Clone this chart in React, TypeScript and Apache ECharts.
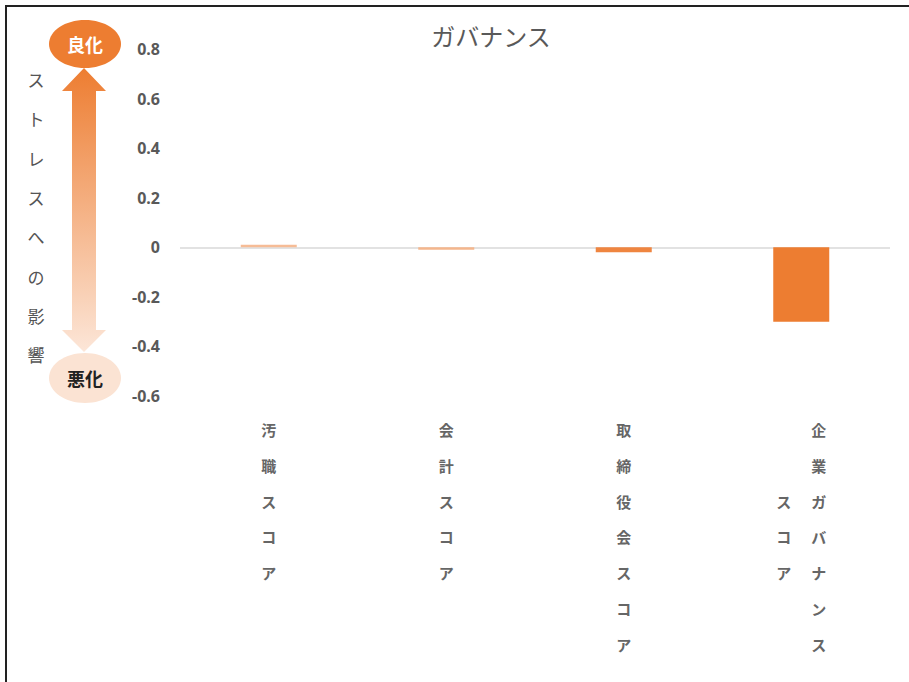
import React, { useEffect, useRef } from "react";
import * as echarts from "echarts";

// Governance sub-scores and their impact on stress
const categories = ["汚職スコア", "会計スコア", "取締役会スコア", "企業ガバナンススコア"];
const values = [0.01, -0.01, -0.02, -0.3];
const barColors = ["#F6BC96", "#F4B68C", "#EF8540", "#ED7D31"];

const chartTitle = "ガバナンス";
const sideCaption = "ストレスへの影響";
const upBadge = "良化";
const downBadge = "悪化";

const Y_MIN = -0.6;
const Y_MAX = 0.8;
const Y_STEP = 0.2;
const MAX_CHARS_PER_COLUMN = 7;

const JP_FONT = "'Noto Sans CJK JP', 'Noto Sans', sans-serif";

// Builds a vertical (tategaki-style) label: one character per line, columns
// of at most MAX_CHARS_PER_COLUMN, further columns to the left, shorter
// columns centred vertically.
function verticalLabel(name: string): string {
  const chars = Array.from(name);
  const cols: string[][] = [];
  for (let i = 0; i < chars.length; i += MAX_CHARS_PER_COLUMN) {
    cols.push(chars.slice(i, i + MAX_CHARS_PER_COLUMN));
  }
  const rows = cols[0].length;
  const padded = cols.map((c) => {
    const off = Math.floor((rows - c.length) / 2);
    return Array.from({ length: rows }, (_, r) => c[r - off] ?? "\u3000");
  });
  const ordered = padded.slice().reverse();
  const lines: string[] = [];
  for (let r = 0; r < rows; r++) {
    lines.push(ordered.map((col) => `{c|${col[r]}}`).join(""));
  }
  return lines.join("\n");
}

export default function App() {
  const ref = useRef<HTMLDivElement>(null);

  useEffect(() => {
    if (!ref.current) return;
    const chart = echarts.init(ref.current, undefined, { renderer: "svg" });

    const arrowGradient = new echarts.graphic.LinearGradient(0, 0, 0, 1, [
      { offset: 0, color: "#ED7D31" },
      { offset: 1, color: "#FCE6D8" },
    ]);

    chart.setOption({
      animation: false,
      backgroundColor: "#ffffff",
      title: {
        text: chartTitle,
        left: 486,
        top: 18,
        textAlign: "center",
        textStyle: {
          fontFamily: JP_FONT,
          fontSize: 24,
          fontWeight: "normal",
          color: "#595959",
        },
      },
      grid: { left: 180, right: 19, top: 49, bottom: 286, containLabel: false },
      xAxis: {
        type: "category",
        data: categories,
        position: "bottom",
        axisLine: { show: false, onZero: false },
        axisTick: { show: false },
        splitLine: { show: false },
        axisLabel: {
          interval: 0,
          margin: 16,
          verticalAlign: "top",
          formatter: (v: string) => verticalLabel(v),
          rich: {
            c: {
              width: 35,
              align: "center",
              lineHeight: 35.7,
              fontSize: 15,
              fontWeight: "bold",
              fontFamily: JP_FONT,
              color: "#666666",
            },
          },
        },
      },
      yAxis: {
        type: "value",
        min: Y_MIN,
        max: Y_MAX,
        interval: Y_STEP,
        axisLine: { show: false },
        axisTick: { show: false },
        splitLine: { show: false },
        axisLabel: {
          margin: 20,
          fontSize: 16,
          fontWeight: "bold",
          fontFamily: "'Noto Sans', sans-serif",
          color: "#595959",
          formatter: (v: number) => (Math.abs(v) < 1e-9 ? "0" : v.toFixed(1)),
        },
      },
      series: [
        {
          type: "bar",
          barWidth: 56,
          data: values.map((v, i) => ({ value: v, itemStyle: { color: barColors[i] } })),
          markLine: {
            silent: true,
            symbol: ["none", "none"],
            label: { show: false },
            lineStyle: { color: "#D9D9D9", type: "solid", width: 1.5 },
            data: [{ yAxis: 0 }],
            z: 1,
          },
          z: 2,
        },
      ],
      graphic: [
        // frame edges
        {
          type: "line",
          shape: { x1: 5, y1: 6, x2: 909, y2: 6 },
          style: { stroke: "#222222", lineWidth: 2 },
        },
        {
          type: "line",
          shape: { x1: 6, y1: 5, x2: 6, y2: 682 },
          style: { stroke: "#222222", lineWidth: 2 },
        },
        // double-headed gradient arrow
        {
          type: "polygon",
          shape: {
            points: [
              [84, 68],
              [106, 91],
              [96, 91],
              [96, 330],
              [106, 330],
              [84, 352],
              [62, 330],
              [72, 330],
              [72, 91],
              [62, 91],
            ],
          },
          style: { fill: arrowGradient },
        },
        {
          type: "ellipse",
          shape: { cx: 85, cy: 44, rx: 36, ry: 24 },
          style: { fill: "#ED7D31" },
        },
        {
          type: "text",
          x: 85,
          y: 44,
          style: {
            text: upBadge,
            align: "center",
            verticalAlign: "middle",
            fontFamily: JP_FONT,
            fontSize: 18,
            fontWeight: "bold",
            fill: "#ffffff",
          },
        },
        {
          type: "ellipse",
          shape: { cx: 85, cy: 378, rx: 36, ry: 25 },
          style: { fill: "#FBE3D3" },
        },
        {
          type: "text",
          x: 85,
          y: 378,
          style: {
            text: downBadge,
            align: "center",
            verticalAlign: "middle",
            fontFamily: JP_FONT,
            fontSize: 18,
            fontWeight: "bold",
            fill: "#222222",
          },
        },
        {
          type: "text",
          x: 36,
          y: 60,
          style: {
            text: Array.from(sideCaption).join("\n"),
            align: "center",
            verticalAlign: "top",
            lineHeight: 39.3,
            fontFamily: JP_FONT,
            fontSize: 17,
            fill: "#555555",
          },
        },
      ],
    });

    return () => chart.dispose();
  }, []);

  return (
    <div style={{ position: "fixed", left: 0, top: 0, width: 909, height: 682, background: "#fff" }}>
      <div ref={ref} style={{ width: 909, height: 682 }} />
    </div>
  );
}
